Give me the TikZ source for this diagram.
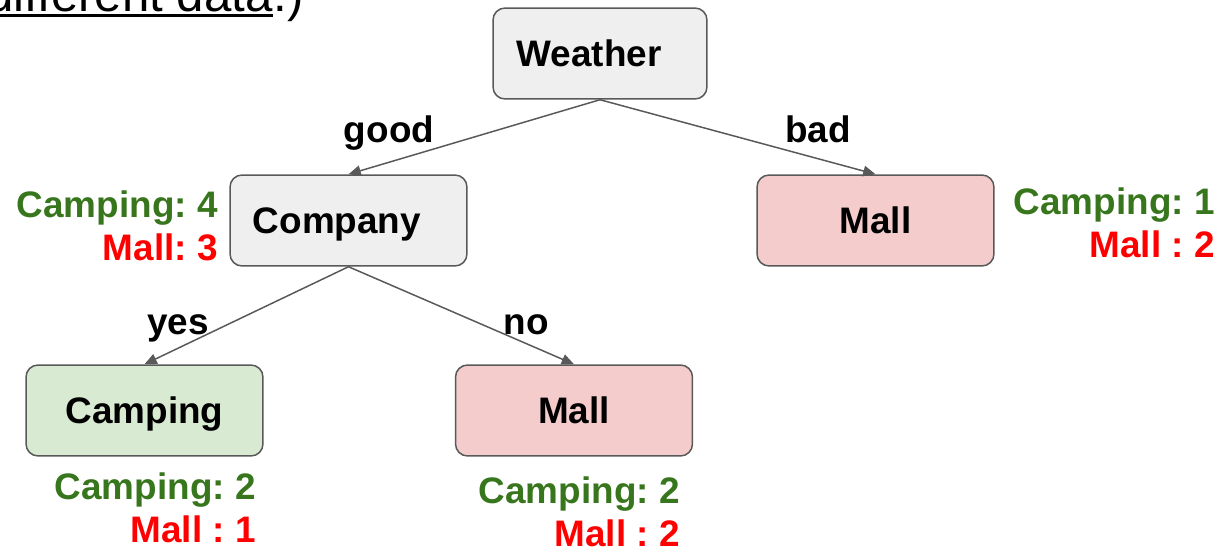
\documentclass[tikz,border=0pt]{standalone}
\usepackage{fontspec}
\setmainfont{Liberation Sans}
\usetikzlibrary{arrows.meta}
\definecolor{boxgray}{HTML}{EFEFEF}
\definecolor{boxpink}{HTML}{F4CCCC}
\definecolor{boxgreen}{HTML}{D9EAD3}
\definecolor{linegray}{HTML}{595959}
\definecolor{countgreen}{HTML}{38761D}
\definecolor{countred}{HTML}{FF0000}
\frenchspacing

\begin{document}
\begin{tikzpicture}[x=0.02cm,y=-0.02cm,
    treebox/.style={draw=linegray,line width=0.85pt,rounded corners=0.24cm,
      minimum width=4.74cm,minimum height=1.82cm,text height=15pt,text depth=0pt,
      font=\fontsize{21}{25}\selectfont\bfseries},
    branch/.style={->,>={Triangle[length=7pt,width=6pt]},draw=linegray,line width=0.85pt},
    branchlabel/.style={anchor=base,inner sep=0pt,font=\fontsize{21}{25}\selectfont\bfseries},
    campcount/.style={anchor=base east,inner sep=0pt,text=countgreen,font=\fontsize{21}{25}\selectfont\bfseries},
    mallcount/.style={anchor=base east,inner sep=0pt,text=countred,font=\fontsize{21}{25}\selectfont\bfseries}
  ]
    % Frame
    \clip (0,0) rectangle (1231,557);
    % Definitions
    \coordinate (WE)  at (600,53.5);
    \coordinate (CO)  at (348.5,220.5);
    \coordinate (MR)  at (875.5,220.5);
    \coordinate (CA)  at (144.5,410.5);
    \coordinate (MB)  at (574,410.5);
    % Note at the top
    \node(Diff) at (273,12) [anchor=base east,inner sep=0pt,font=\fontsize{28}{32}\selectfont] {different data};
    \node(Paren) at (Diff.base east) [anchor=base west,inner sep=0pt,font=\fontsize{28}{32}\selectfont] {.)};
    \draw[line width=1.8pt] ([yshift=-2.2pt]Diff.base west) -- ([yshift=-2.2pt]Diff.base east);
    % Nodes
    \node(Weat)   at (WE) [treebox,minimum width=4.28cm,fill=boxgray] {Weather\kern0.44cm};
    \node(Comp)   at (CO) [treebox,fill=boxgray]  {Company\kern0.46cm};
    \node(MaRi)   at (MR) [treebox,fill=boxpink]  {Mall};
    \node(Camp)   at (CA) [treebox,fill=boxgreen] {Camping};
    \node(MaBo)   at (MB) [treebox,fill=boxpink]  {Mall};
    % Counts
    \node(CoCamp) at (218,218)  [campcount] {Camping: 4};
    \node(CoMall) at (218,261)  [mallcount] {Mall: 3};
    \node(MRCamp) at (1215,215) [campcount] {Camping: 1};
    \node(MRMall) at (1215,258) [mallcount] {Mall : 2};
    \node(CaCamp) at (256,499)  [campcount] {Camping: 2};
    \node(CaMall) at (256,542)  [mallcount] {Mall : 1};
    \node(MBCamp) at (680,503)  [campcount] {Camping: 2};
    \node(MBMall) at (680,546)  [mallcount] {Mall : 2};
    % Branch labels
    \node(Good) at (389,143) [branchlabel] {good};
    \node(Bad)  at (818,143) [branchlabel] {bad};
    \node(Yes)  at (178,335) [branchlabel] {yes};
    \node(No)   at (526,335) [branchlabel] {no};
    % Arrows
    \draw[branch] (Weat.south) -- (Comp.north);
    \draw[branch] (Weat.south) -- (MaRi.north);
    \draw[branch] (Comp.south) -- (Camp.north);
    \draw[branch] (Comp.south) -- (MaBo.north);
\end{tikzpicture}
\end{document}
